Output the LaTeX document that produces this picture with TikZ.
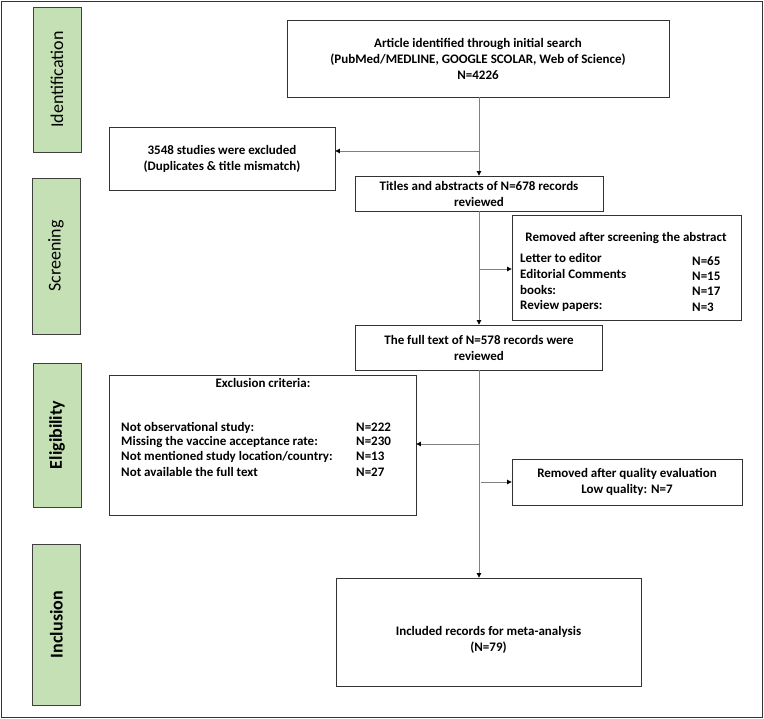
\documentclass[tikz,border=0pt]{standalone}
\usepackage{fontspec}
\setmainfont{Carlito}
\usetikzlibrary{arrows.meta}
\definecolor{phasegreen}{HTML}{C5E0B4}
\begin{document}
\begin{tikzpicture}[x=1pt,y=-1pt,
  frame/.style={draw=black!80, line width=0.8pt},
  phase/.style={draw=black!75, fill=phasegreen, line width=0.9pt, rotate=90, minimum height=48pt, inner sep=0pt, font=\fontsize{18}{20}\selectfont},
  box/.style={draw=black!80, line width=0.8pt, inner sep=0pt, align=center, font=\fontsize{13}{16}\selectfont\bfseries},
  txt/.style={inner sep=0pt, align=center, font=\fontsize{13}{16}\selectfont\bfseries},
  conn/.style={draw=black!50, line width=0.7pt},
  arr/.style={conn, -{Triangle[length=4.5pt,width=4.5pt,color=black]}}
]
\useasboundingbox (0,0) rectangle (764,719);
\draw[frame] (1,1) rectangle (762,717);

% phase labels
\node[phase, minimum width=145pt] (pid) at (57,79.5) {Identification};
\node[phase, minimum width=156pt] (psc) at (56,256) {Screening};
\node[phase, minimum width=144pt, font=\fontsize{18}{20}\selectfont\bfseries] (pel) at (57,435) {Eligibility};
\node[phase, minimum width=161pt, font=\fontsize{18}{20}\selectfont\bfseries] (pin) at (56.5,624.5) {Inclusion};

% boxes
\node[box, minimum width=382pt, minimum height=77pt] (art) at (478,58.5)
  {Article identified through initial  search\\(PubMed/MEDLINE,  GOOGLE SCOLAR, Web of Science)\\N=4226};
\node[box, minimum width=226pt, minimum height=63pt] (ex1) at (222,158.5)
  {3548 studies were excluded\\(Duplicates  \& title mismatch)};
\node[box, minimum width=248pt, minimum height=35pt] (tit) at (479,193.5)
  {Titles and abstracts of N=678 records\\reviewed};
\node[box, minimum width=229pt, minimum height=105pt] (abs) at (626.5,267.5) {};
\node[box, minimum width=247pt, minimum height=45pt] (full) at (479,347.5)
  {The full text of N=578 records were\\reviewed};
\node[box, minimum width=307pt, minimum height=140pt] (exc) at (262.5,445) {};
\node[box, minimum width=230pt, minimum height=46pt] (qual) at (627,482)
  {Removed after quality evaluation\\Low quality:  N=7};
\node[box, minimum width=305pt, minimum height=108pt] (incl) at (488.5,632) {};

% text inside abstract box
\node[txt, anchor=base] (abst) at (626,241.5) {Removed after screening the abstract};
\node[txt, anchor=base west] (a1) at (520,262.5) {Letter to editor};
\node[txt, anchor=base west] (a2) at (520,278.5) {Editorial  Comments};
\node[txt, anchor=base west] (a3) at (520,294.5) {books:};
\node[txt, anchor=base west] (a4) at (520,309.5) {Review papers:};
\node[txt, anchor=base west] (n1) at (692,265.5) {N=65};
\node[txt, anchor=base west] (n2) at (692,280.5) {N=15};
\node[txt, anchor=base west] (n3) at (692,295.5) {N=17};
\node[txt, anchor=base west] (n4) at (692,311.5) {N=3};

% text inside exclusion box
\node[txt, anchor=base] (exct) at (263,387.5) {Exclusion  criteria:};
\node[txt, anchor=base west] (e1) at (121,431.5) {Not observational  study:};
\node[txt, anchor=base west] (e2) at (121,445.5) {Missing the vaccine acceptance rate:};
\node[txt, anchor=base west] (e3) at (121,460.5) {Not mentioned study location/country:};
\node[txt, anchor=base west] (e4) at (121,476.5) {Not available  the full text};
\node[txt, anchor=base west] (m1) at (356,431.5) {N=222};
\node[txt, anchor=base west] (m2) at (356,445.5) {N=230};
\node[txt, anchor=base west] (m3) at (356,460.5) {N=13};
\node[txt, anchor=base west] (m4) at (356,476.5) {N=27};

% text inside included box
\node[txt] (inct) at (488.5,639.5) {Included records for meta-analysis\\(N=79)};

% connectors
\draw[arr] (art.south -| tit.north) -- (tit.north);
\coordinate (j1) at (479,151);
\draw[arr] (j1) -- (j1 -| ex1.east);
\draw[arr] (tit.south) -- (full.north);
\coordinate (j2) at (479,269);
\draw[arr] (j2) -- (j2 -| abs.west);
\draw[arr] (full.south) -- (full.south |- incl.north);
\coordinate (j3) at (479,444);
\draw[arr] (j3) -- (j3 -| exc.east);
\coordinate (j4) at (481,482);
\draw[arr] (j4) -- (j4 -| qual.west);
\end{tikzpicture}
\end{document}
